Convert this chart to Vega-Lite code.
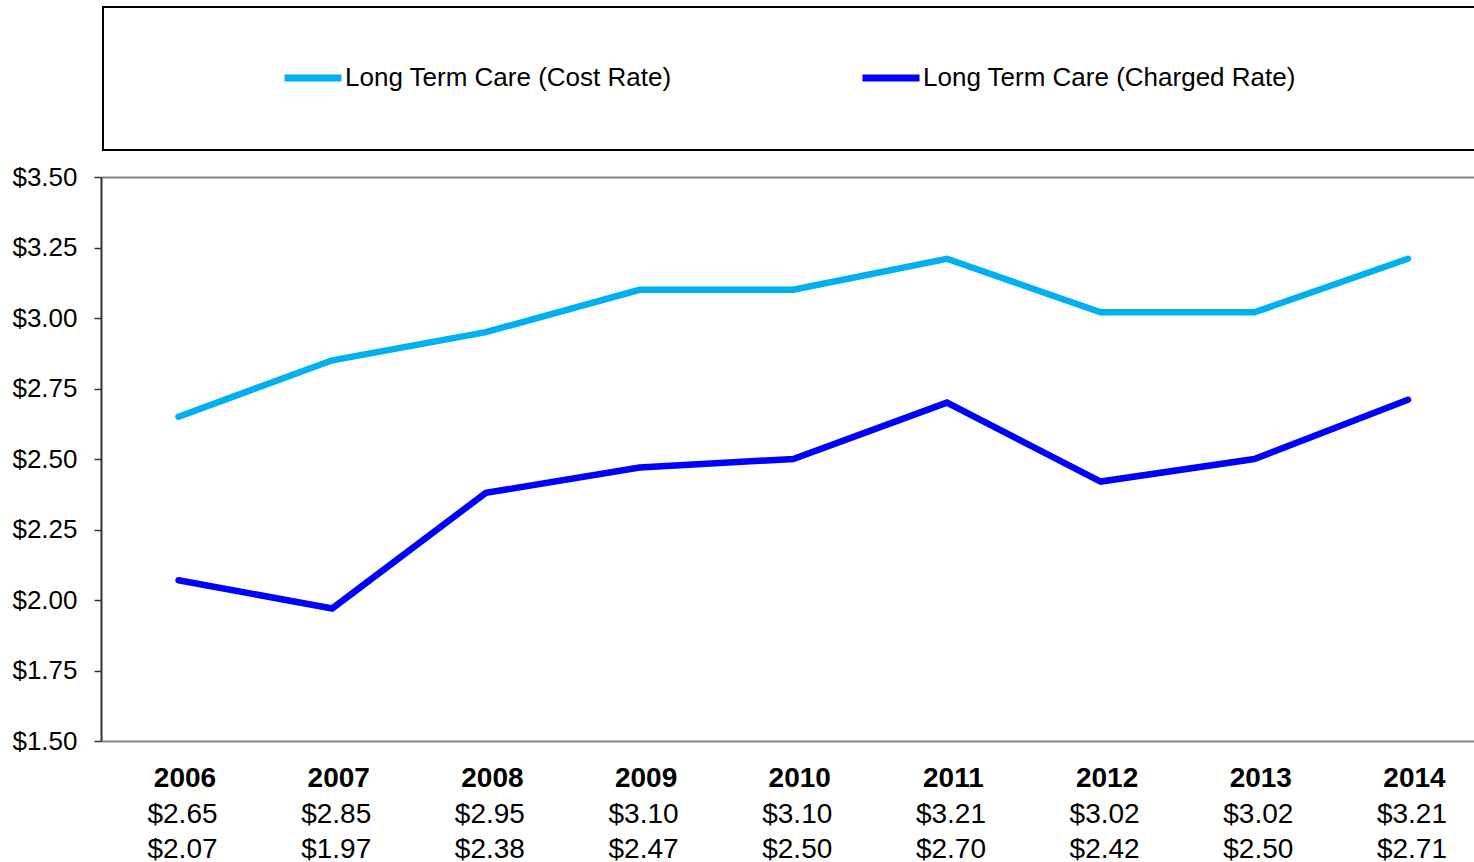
{
  "$schema": "https://vega.github.io/schema/vega-lite/v6.json",
  "autosize": {"type": "none"},
  "padding": {"left": 101, "top": 177, "right": 0, "bottom": 121},
  "width": 1373,
  "height": 564,
  "background": "white",
  "config": {"font": "Liberation Sans", "view": {"stroke": null}, "legend": {"strokeWidth": 2}},
  "data": {
    "values": [
      {"year": "2006", "series": "Long Term Care (Cost Rate)", "value": 2.65},
      {"year": "2007", "series": "Long Term Care (Cost Rate)", "value": 2.85},
      {"year": "2008", "series": "Long Term Care (Cost Rate)", "value": 2.95},
      {"year": "2009", "series": "Long Term Care (Cost Rate)", "value": 3.10},
      {"year": "2010", "series": "Long Term Care (Cost Rate)", "value": 3.10},
      {"year": "2011", "series": "Long Term Care (Cost Rate)", "value": 3.21},
      {"year": "2012", "series": "Long Term Care (Cost Rate)", "value": 3.02},
      {"year": "2013", "series": "Long Term Care (Cost Rate)", "value": 3.02},
      {"year": "2014", "series": "Long Term Care (Cost Rate)", "value": 3.21},
      {"year": "2006", "series": "Long Term Care (Charged Rate)", "value": 2.07},
      {"year": "2007", "series": "Long Term Care (Charged Rate)", "value": 1.97},
      {"year": "2008", "series": "Long Term Care (Charged Rate)", "value": 2.38},
      {"year": "2009", "series": "Long Term Care (Charged Rate)", "value": 2.47},
      {"year": "2010", "series": "Long Term Care (Charged Rate)", "value": 2.50},
      {"year": "2011", "series": "Long Term Care (Charged Rate)", "value": 2.70},
      {"year": "2012", "series": "Long Term Care (Charged Rate)", "value": 2.42},
      {"year": "2013", "series": "Long Term Care (Charged Rate)", "value": 2.50},
      {"year": "2014", "series": "Long Term Care (Charged Rate)", "value": 2.71}
    ]
  },
  "layer": [
    {
      "mark": {"type": "line", "strokeWidth": 6.5, "strokeCap": "round"},
      "encoding": {
        "x": {
          "field": "year",
          "type": "ordinal",
          "scale": {"type": "point", "padding": 0.467, "align": 0.54},
          "axis": {
            "title": null,
            "labelAngle": 0,
            "labelFontSize": 28,
            "labelFontWeight": "bold",
            "labelColor": "black",
            "ticks": false,
            "tickSize": 0,
            "labelPadding": 23,
            "labelOffset": 6,
            "domainColor": "#868686",
            "domainWidth": 2,
            "grid": false
          }
        },
        "y": {
          "field": "value",
          "type": "quantitative",
          "scale": {"domain": [1.5, 3.5], "nice": false, "zero": false},
          "axis": {
            "title": null,
            "values": [1.5, 1.75, 2, 2.25, 2.5, 2.75, 3, 3.25, 3.5],
            "format": "$.2f",
            "labelFontSize": 26,
            "labelColor": "black",
            "labelPadding": 17,
            "tickSize": 7,
            "tickColor": "#333333",
            "tickWidth": 1.5,
            "domainColor": "#333333",
            "domainWidth": 2,
            "grid": true,
            "gridColor": "#868686",
            "gridWidth": 2,
            "gridOpacity": {"condition": {"test": "datum.value === 3.5", "value": 1}, "value": 0}
          }
        },
        "color": {
          "field": "series",
          "type": "nominal",
          "scale": {
            "domain": ["Long Term Care (Cost Rate)", "Long Term Care (Charged Rate)"],
            "range": ["#00B0F0", "#0000FF"]
          },
          "legend": {
            "title": " ",
            "titleOrient": "right",
            "titleAnchor": "middle",
            "titleBaseline": "middle",
            "titlePadding": 200,
            "titleFontSize": 10,
            "orient": "none",
            "legendX": 2,
            "legendY": -170,
            "direction": "horizontal",
            "strokeColor": "black",
            "padding": 58,
            "symbolType": "M-5,0H5",
            "symbolSize": 130,
            "symbolStrokeWidth": 7,
            "symbolOffset": 139,
            "labelOffset": 19,
            "labelFontSize": 26,
            "labelColor": "black",
            "labelLimit": 800,
            "columnPadding": 67
          }
        }
      }
    },
    {
      "mark": {"type": "text", "fontSize": 28, "baseline": "alphabetic", "dx": 4, "color": "black"},
      "encoding": {
        "x": {"field": "year", "type": "ordinal"},
        "y": {
          "field": "series",
          "type": "nominal",
          "scale": {
            "type": "point",
            "domain": ["Long Term Care (Cost Rate)", "Long Term Care (Charged Rate)"],
            "range": [646, 681],
            "padding": 0
          },
          "axis": null
        },
        "text": {"field": "value", "type": "quantitative", "format": "$.2f"}
      }
    }
  ],
  "resolve": {"scale": {"y": "independent"}}
}
